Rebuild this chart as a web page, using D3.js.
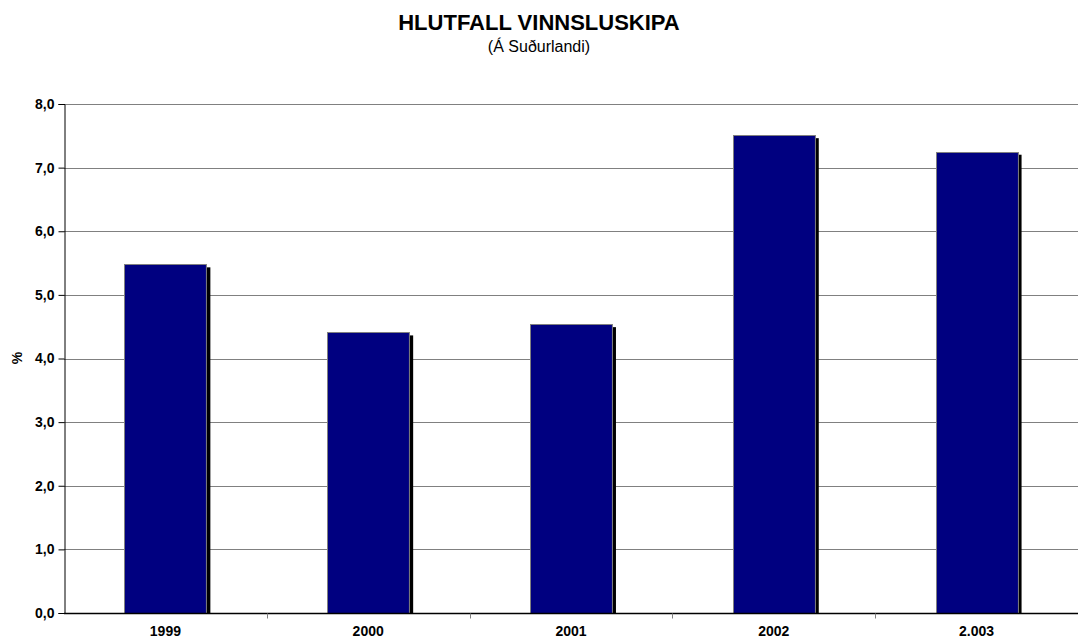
<!DOCTYPE html>
<html>
<head>
<meta charset="utf-8">
<script src="https://cdn.jsdelivr.net/npm/d3@7"></script>
<style>
  body { margin: 0; background: #fff; }
  svg { display: block; font-family: "Liberation Sans", Arial, sans-serif; }
</style>
</head>
<body>
<svg id="chart" width="1078" height="644"></svg>
<script>
"use strict";

const years = ["1999", "2000", "2001", "2002", "2.003"];
const values = [5.48, 4.41, 4.54, 7.51, 7.25];
const yTicks = [0, 1, 2, 3, 4, 5, 6, 7, 8];

const svg = d3.select("#chart");
const margin = { top: 104, right: 0, bottom: 31, left: 64 };
const width = 1078, height = 644;

const x = d3.scaleBand()
    .domain(years)
    .range([margin.left, width - margin.right])
    .padding(0);

const y = d3.scaleLinear()
    .domain([0, 8])
    .range([height - margin.bottom, margin.top]);

const fmt = d => d3.format(".1f")(d).replace(".", ",");

// title
svg.append("text")
    .attr("x", 539).attr("y", 30)
    .attr("text-anchor", "middle")
    .attr("font-size", 22).attr("font-weight", "bold")
    .text("HLUTFALL VINNSLUSKIPA");

svg.append("text")
    .attr("x", 539).attr("y", 52)
    .attr("text-anchor", "middle")
    .attr("font-size", 16)
    .text("(Á Suðurlandi)");

// gridlines
svg.append("g")
    .selectAll("line")
    .data(yTicks)
    .enter()
    .append("line")
    .attr("x1", margin.left).attr("x2", width - margin.right)
    .attr("y1", d => Math.round(y(d)) + 0.5).attr("y2", d => Math.round(y(d)) + 0.5)
    .attr("stroke", "#808080")
    .attr("stroke-width", 1);

// bars
const barW = x.bandwidth() * 0.404;
const bars = svg.append("g");

bars.selectAll("rect.shadow")
    .data(values)
    .enter()
    .append("rect")
    .attr("class", "shadow")
    .attr("x", (d, i) => x(years[i]) + x.bandwidth() / 2 - barW / 2 + 4)
    .attr("y", d => y(d) + 3)
    .attr("width", barW)
    .attr("height", d => y(0) - y(d) - 3)
    .attr("fill", "#000");

bars.selectAll("rect.bar")
    .data(values)
    .enter()
    .append("rect")
    .attr("class", "bar")
    .attr("x", (d, i) => Math.round(x(years[i]) + x.bandwidth() / 2 - barW / 2) + 0.5)
    .attr("y", d => Math.round(y(d)) + 0.5)
    .attr("width", barW)
    .attr("height", d => y(0) - Math.round(y(d)))
    .attr("fill", "#000080")
    .attr("stroke", "#808080")
    .attr("stroke-width", 1);

// y axis
const yAxis = svg.append("g")
    .attr("transform", `translate(${margin.left + 0.5},0)`)
    .call(d3.axisLeft(y).tickValues(yTicks).tickFormat(fmt).tickSize(6).tickPadding(4));
yAxis.select(".domain").attr("stroke", "#000");
yAxis.selectAll(".tick line").attr("stroke", "#000");
yAxis.selectAll("text")
    .attr("font-size", 14).attr("font-weight", "bold")
    .attr("font-family", "Liberation Sans, Arial, sans-serif")
    .attr("fill", "#000");

// x axis
const xAxis = svg.append("g")
    .attr("transform", `translate(0,${Math.round(y(0)) + 0.5})`);
xAxis.append("line")
    .attr("x1", margin.left).attr("x2", width - margin.right)
    .attr("stroke", "#000").attr("stroke-width", 1.5);
xAxis.selectAll("line.tick")
    .data(years.slice(1))
    .enter()
    .append("line")
    .attr("class", "tick")
    .attr("x1", d => Math.round(x(d)) + 0.5).attr("x2", d => Math.round(x(d)) + 0.5)
    .attr("y1", 0).attr("y2", 5)
    .attr("stroke", "#808080");
xAxis.selectAll("text")
    .data(years)
    .enter()
    .append("text")
    .attr("x", d => x(d) + x.bandwidth() / 2)
    .attr("y", 22)
    .attr("text-anchor", "middle")
    .attr("font-size", 14).attr("font-weight", "bold")
    .text(d => d);

// y label
svg.append("text")
    .attr("transform", "translate(22,358) rotate(-90)")
    .attr("text-anchor", "middle")
    .attr("font-size", 14).attr("font-weight", "bold")
    .text("%");
</script>
</body>
</html>
